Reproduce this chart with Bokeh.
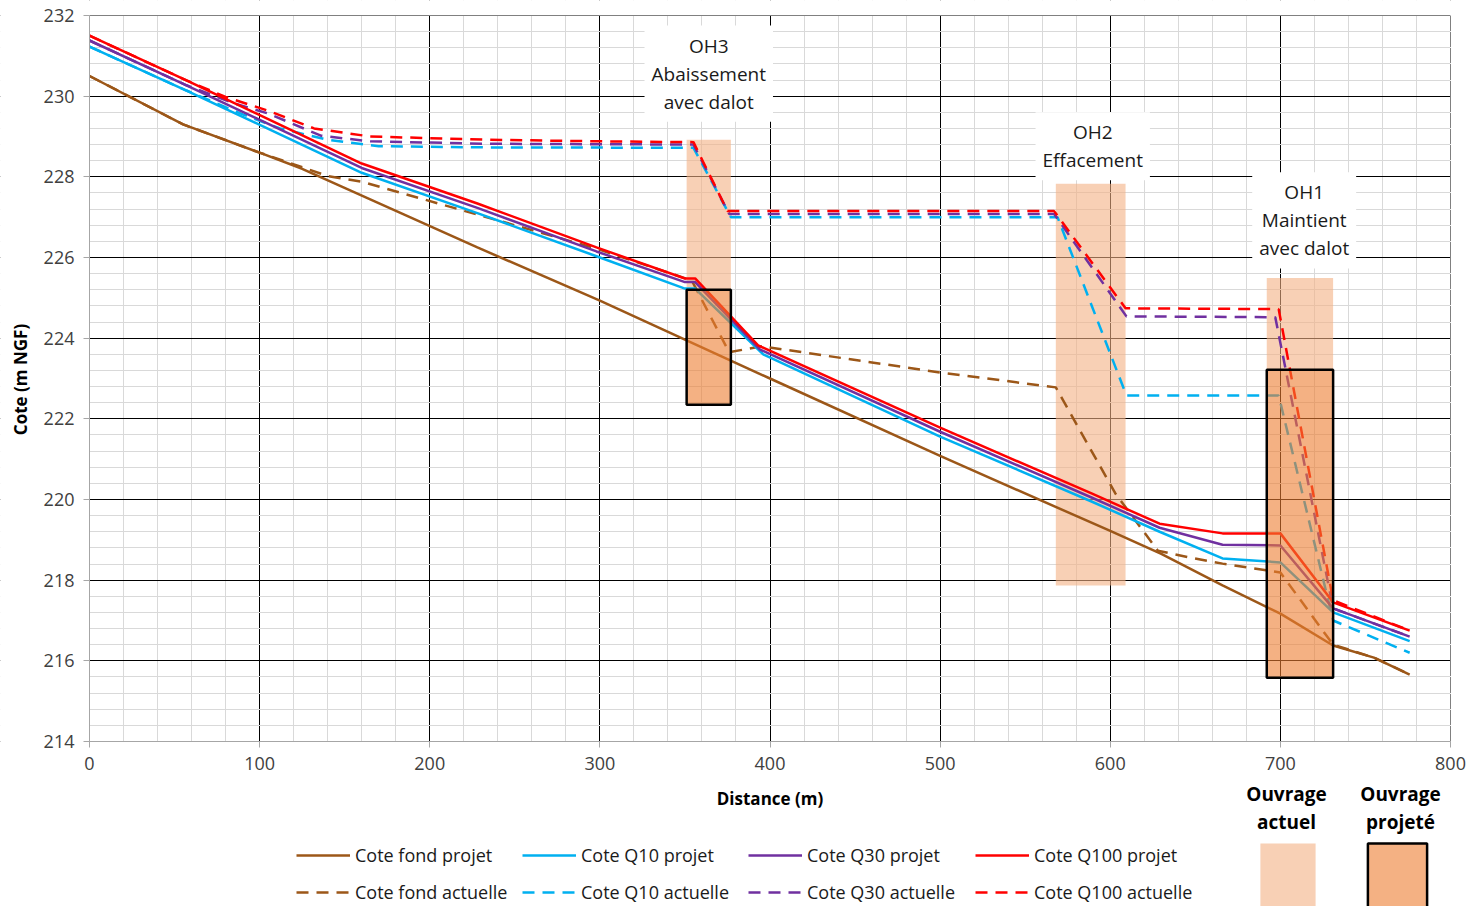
import math
from bokeh.plotting import figure
from bokeh.models import (Range1d, SingleIntervalTicker, Legend, LegendItem, Label,
                          ColumnDataSource, BoxAnnotation)
from bokeh.embed import file_html
from bokeh.resources import INLINE

FONT = "Open Sans"

# ---------------- data ----------------
fond_projet_x = [0, 55, 100, 125, 228, 300, 400, 500, 600, 630, 666, 700, 731, 755, 776]
fond_projet_y = [230.5, 229.3, 228.6, 228.2, 226.25, 224.93, 223.0, 221.08, 219.22, 218.65,
                 217.87, 217.17, 216.38, 216.08, 215.66]

fond_actuelle_x = [0, 55, 100, 140, 160, 230, 298, 354, 376, 395, 500, 568, 603, 628, 647,
                   666, 700, 731, 755, 776]
fond_actuelle_y = [230.5, 229.3, 228.6, 228.02, 227.88, 227.04, 226.22, 225.43, 223.65, 223.8,
                   223.15, 222.78, 220.15, 218.73, 218.56, 218.41, 218.19, 216.4, 216.08, 215.66]

q100_projet_x = [0, 57, 160, 228, 298, 350, 356, 393, 500, 589, 629, 666, 700, 731, 776]
q100_projet_y = [231.5, 230.39, 228.33, 227.34, 226.25, 225.48, 225.48, 223.82, 221.78, 220.15,
                 219.4, 219.16, 219.16, 217.45, 216.75]

q30_projet_x = [0, 57, 160, 228, 298, 350, 356, 394, 500, 589, 629, 666, 700, 731, 776]
q30_projet_y = [231.38, 230.27, 228.22, 227.23, 226.15, 225.39, 225.39, 223.72, 221.68, 220.05,
                219.3, 218.88, 218.86, 217.3, 216.6]

q10_projet_x = [0, 57, 160, 228, 298, 350, 356, 396, 500, 589, 629, 666, 700, 731, 776]
q10_projet_y = [231.23, 230.14, 228.1, 227.1, 226.03, 225.23, 225.23, 223.6, 221.56, 219.95,
                219.2, 218.54, 218.44, 217.2, 216.49]

q100_actuelle_x = [0, 57, 80, 105, 132, 165, 233, 300, 355, 375, 567, 609, 699, 731, 776]
q100_actuelle_y = [231.5, 230.39, 229.98, 229.64, 229.2, 229.0, 228.92, 228.88, 228.86, 227.15,
                   227.15, 224.74, 224.72, 217.5, 216.75]

q30_actuelle_x = [0, 57, 85, 105, 136, 165, 233, 355, 376, 567, 609.5, 697, 731, 776]
q30_actuelle_y = [231.38, 230.27, 229.82, 229.57, 229.02, 228.88, 228.82, 228.8, 227.08, 227.08,
                  224.54, 224.52, 217.3, 216.6]

q10_actuelle_x = [0, 57, 90, 112, 140, 170, 233, 355, 377, 569, 609.5, 699, 731, 776]
q10_actuelle_y = [231.23, 230.14, 229.55, 229.2, 228.92, 228.76, 228.73, 228.72, 227.0, 227.0,
                  222.58, 222.58, 217.0, 216.2]

# structures (ouvrages)
actuel_left = [351, 568, 692]
actuel_right = [377, 609, 731]
actuel_bottom = [225.2, 217.87, 223.22]
actuel_top = [228.92, 227.83, 225.49]

projete_left = [351, 692]
projete_right = [377, 731]
projete_bottom = [222.35, 215.58]
projete_top = [225.2, 223.22]

annot_text = ["OH3\nAbaissement\navec dalot", "OH2\nEffacement", "OH1\nMaintient\navec dalot"]
annot_x = [364, 589.7, 714]
annot_y = [230.56, 228.76, 226.92]

X_MIN, X_MAX = 0, 800
Y_MIN, Y_MAX = 214, 232

# ---------------- layout (pixels on the canvas) ----------------
W, H = 1468, 906
PX_X0, PX_X1 = 89, 1450     # canvas columns of x = 0 and x = 800
PX_YT, PX_YB = 15, 741      # canvas rows of y = 232 and y = 214
sx = (PX_X1 - PX_X0) / (X_MAX - X_MIN)
sy = (PX_YB - PX_YT) / (Y_MAX - Y_MIN)
x_start = X_MIN - PX_X0 / sx
x_end = X_MAX + (W - PX_X1) / sx
y_end = Y_MAX + PX_YT / sy
y_start = Y_MIN - (H - PX_YB) / sy

p = figure(width=W, height=H, output_backend="svg", toolbar_location=None,
           x_range=Range1d(x_start, x_end), y_range=Range1d(y_start, y_end),
           min_border_left=0, min_border_right=0, min_border_top=0, min_border_bottom=0)
p.outline_line_color = None
p.background_fill_color = "white"
p.border_fill_color = "white"

p.xaxis.ticker = SingleIntervalTicker(interval=100, num_minor_ticks=5)
p.yaxis.ticker = SingleIntervalTicker(interval=2, num_minor_ticks=5)
p.xgrid.ticker = p.xaxis.ticker
p.ygrid.ticker = p.yaxis.ticker
p.xaxis.bounds = (X_MIN, X_MAX)
p.yaxis.bounds = (Y_MIN, Y_MAX)
p.xaxis.fixed_location = Y_MIN
p.yaxis.fixed_location = X_MIN
for g in (p.xgrid, p.ygrid):
    g.grid_line_color = "#000000"
    g.grid_line_width = 1
    g.minor_grid_line_color = "#D9D9D9"
    g.minor_grid_line_width = 1

for ax in (p.xaxis, p.yaxis):
    ax.axis_line_color = "#A6A6A6"
    ax.axis_line_width = 1
    ax.major_tick_line_color = "#A6A6A6"
    ax.major_tick_out = 6
    ax.major_tick_in = 0
    ax.minor_tick_line_color = None
    ax.major_label_text_font = FONT
    ax.major_label_text_font_size = "18px"
    ax.major_label_text_color = "#404040"
    ax.major_label_standoff = 9

# keep the grid inside the chart area only
for kw in (dict(top=Y_MIN), dict(bottom=Y_MAX), dict(right=X_MIN), dict(left=X_MAX)):
    p.add_layout(BoxAnnotation(fill_color="white", fill_alpha=1.0, line_color=None,
                               level="underlay", **kw))

# light "actuel" rectangles behind lines
src_act = ColumnDataSource(dict(left=actuel_left, right=actuel_right,
                                bottom=actuel_bottom, top=actuel_top))
r_act = p.quad(left="left", right="right", bottom="bottom", top="top", source=src_act,
               fill_color="#F4B183", fill_alpha=0.6, line_color=None)

BROWN = "#9C5718"
CYAN = "#00B0F0"
PURPLE = "#7030A0"
RED = "#FF0000"
LW = 2.5
DASH = "12 8"

r_fp = p.line(fond_projet_x, fond_projet_y, line_color=BROWN, line_width=LW)
r_fa = p.line(fond_actuelle_x, fond_actuelle_y, line_color=BROWN, line_width=LW, line_dash=DASH)
r_10a = p.line(q10_actuelle_x, q10_actuelle_y, line_color=CYAN, line_width=LW, line_dash=DASH)
r_30a = p.line(q30_actuelle_x, q30_actuelle_y, line_color=PURPLE, line_width=LW, line_dash=DASH)
r_100a = p.line(q100_actuelle_x, q100_actuelle_y, line_color=RED, line_width=LW, line_dash=DASH)
r_10p = p.line(q10_projet_x, q10_projet_y, line_color=CYAN, line_width=LW)
r_30p = p.line(q30_projet_x, q30_projet_y, line_color=PURPLE, line_width=LW)
r_100p = p.line(q100_projet_x, q100_projet_y, line_color=RED, line_width=LW)

# darker "projeté" boxes in front
src_proj = ColumnDataSource(dict(left=projete_left, right=projete_right,
                                 bottom=projete_bottom, top=projete_top))
r_proj = p.quad(left="left", right="right", bottom="bottom", top="top", source=src_proj,
                fill_color="#ED7D31", fill_alpha=0.6, line_color="black", line_width=2.5)

# annotations on the chart
for t, x, y in zip(annot_text, annot_x, annot_y):
    p.add_layout(Label(x=x, y=y, text=t, text_align="center", text_baseline="middle",
                       text_font=FONT, text_font_size="19px", text_color="#1a1a1a",
                       text_line_height=1.08, background_fill_color="white",
                       background_fill_alpha=1.0, padding=7))

# axis titles (axes are pinned inside the canvas, so titles are drawn as labels)
p.add_layout(Label(x=(X_MIN + X_MAX) / 2, y=Y_MIN - (798 - PX_YB) / sy,
                   text="Distance (m)", text_align="center", text_baseline="middle",
                   text_font=FONT, text_font_size="17px", text_font_style="bold",
                   text_color="#000000"))
p.add_layout(Label(x=20, y=H - 379, x_units="screen", y_units="screen",
                   text="Cote (m NGF)", angle=math.pi / 2,
                   text_align="center", text_baseline="middle",
                   text_font=FONT, text_font_size="17px", text_font_style="bold",
                   text_color="#000000"))

# line legends: 4 columns of 2 rows
cols = [
    (("Cote fond projet", r_fp), ("Cote fond actuelle", r_fa)),
    (("Cote Q10 projet", r_10p), ("Cote Q10 actuelle", r_10a)),
    (("Cote Q30 projet", r_30p), ("Cote Q30 actuelle", r_30a)),
    (("Cote Q100 projet", r_100p), ("Cote Q100 actuelle", r_100a)),
]
col_x = [296, 522, 748, 975]
ROW2_Y = 892
for (a, b), cx in zip(cols, col_x):
    lg = Legend(items=[LegendItem(label=a[0], renderers=[a[1]]),
                       LegendItem(label=b[0], renderers=[b[1]])],
                location=(cx, H - (ROW2_Y + 12)), orientation="vertical",
                glyph_width=54, glyph_height=24, label_height=24, spacing=13,
                padding=0, margin=0, label_standoff=5,
                border_line_alpha=0, background_fill_alpha=0,
                label_text_font=FONT, label_text_font_size="18px",
                label_text_color="#1a1a1a", label_text_baseline="middle")
    p.add_layout(lg, "center")

# structure legends ("Ouvrage actuel" / "Ouvrage projeté")
for r, cx, gw, txt, tx in [(r_act, 1253, 69, "Ouvrage\nactuel", 1286),
                           (r_proj, 1360, 74, "Ouvrage\nprojeté", 1400)]:
    lg = Legend(items=[LegendItem(label=" ", renderers=[r])],
                location=(cx, H - 924), orientation="vertical",
                glyph_width=gw, glyph_height=90, label_height=10,
                padding=0, margin=0, label_standoff=0,
                border_line_alpha=0, background_fill_alpha=0,
                label_text_font_size="4px")
    p.add_layout(lg, "center")
    p.add_layout(Label(x=tx, y=H - 807.5, x_units="screen", y_units="screen", text=txt,
                       text_align="center", text_baseline="middle", text_font=FONT,
                       text_font_size="19px", text_font_style="bold",
                       text_line_height=1.1, text_color="#000000"))

open("out.html", "w").write(file_html(p, INLINE))
